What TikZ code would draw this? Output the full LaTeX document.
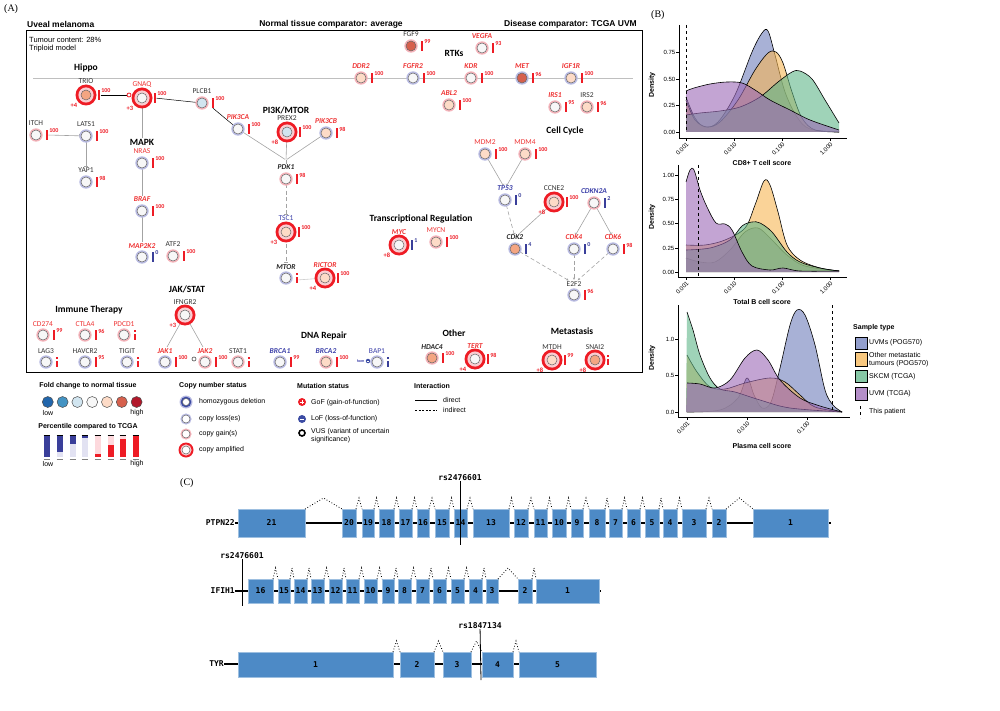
\documentclass[tikz,border=0pt]{standalone}
\usepackage{fontspec}
\setmainfont{Liberation Sans}
\newfontfamily\genefont{Carlito}
\newfontfamily\exonfont{DejaVu Sans Mono}
\newfontfamily\panelfont{Liberation Serif}
\usetikzlibrary{arrows.meta,backgrounds}

% fold change palette
\definecolor{fcA}{HTML}{2166AC}
\definecolor{fcB}{HTML}{4393C3}
\definecolor{fcC}{HTML}{D1E5F0}
\definecolor{fcD}{HTML}{F7F7F7}
\definecolor{fcE}{HTML}{FDDBC7}
\definecolor{fcS}{HTML}{F4A582}
\definecolor{fcF}{HTML}{D6604D}
\definecolor{fcG}{HTML}{B2182B}
% copy number rings and bars
\definecolor{loss}{HTML}{B9BBE2}
\definecolor{gain}{HTML}{F5B3BA}
\definecolor{amp}{HTML}{EE1C25}
\definecolor{ampin}{HTML}{F9CDD1}
\definecolor{homblue}{HTML}{3B4BA3}
\definecolor{barred}{HTML}{EE1C25}
\definecolor{barblue}{HTML}{3A3F9A}
\definecolor{pblight}{HTML}{E2E2F2}
\definecolor{prlight}{HTML}{FDD9DD}
\definecolor{genered}{HTML}{EE3333}
\definecolor{geneblue}{HTML}{3B3FA8}
\definecolor{linkgray}{HTML}{A3A3A3}
% sample types
\definecolor{uvmpog}{HTML}{6E7DBB}
\definecolor{othmet}{HTML}{F6B654}
\definecolor{skcm}{HTML}{5FB588}
\definecolor{uvmtcga}{HTML}{9B68B6}
\definecolor{exonblue}{HTML}{4D8AC6}

% density curve: colour, baseline, points
\newcommand{\dens}[3]{%
  \fill[#1, fill opacity=0.6] plot[smooth, tension=0.55] coordinates {#3} |- (686,#2) -- cycle;
  \draw[line width=0.6pt] plot[smooth, tension=0.55] coordinates {#3};}

% gene model: box top, box bottom, exons
\newcommand{\exonrow}[3]{%
  \foreach \a/\b/\n [remember=\b as \pb (initially 0)] in {#3}{
    \filldraw[exon] (\a,#1) rectangle (\b,#2);
    \node[exnum] at ({(\a+\b)/2},{(#1+#2)/2}) {\n};
    \ifnum\pb>0 \draw[splice] (\pb,#1) -- ({(\pb+\a)/2},#1-11) -- (\a,#1); \fi
  }}

% copy number ring behind a gene circle: colour, x, y, amplified?
\newcommand{\cnring}[4]{%
  \ifnum#4=1
    \fill[amp] (#2,#3) circle[radius=10.5]; \fill[ampin] (#2,#3) circle[radius=7.6];
  \else
    \fill[#1] (#2,#3) circle[radius=6.7];
  \fi}

\begin{document}
\begin{tikzpicture}[x=1pt, y=-1pt,
    every node/.style={inner sep=0pt},
    gene/.style={circle, minimum size=10pt, draw=black!60, line width=0.5pt},
    lk/.style={font=\genefont\fontsize{7.5}{8}\selectfont, text=black!80},
    lki/.style={font=\genefont\bfseries\itshape\fontsize{7.5}{8}\selectfont, text=black!85},
    lr/.style={lk, text=genered},
    lri/.style={lki, text=genered},
    lb/.style={lk, text=geneblue},
    lbi/.style={lki, text=geneblue},
    pbar/.style={rectangle, minimum width=2.6pt},
    pnum/.style={anchor=north west, font=\genefont\bfseries\fontsize{6}{6}\selectfont},
    cnv/.style={font=\genefont\bfseries\fontsize{6.5}{7}\selectfont, text=amp},
    grp/.style={font=\genefont\bfseries\fontsize{9.5}{10}\selectfont},
    hdr/.style={font=\bfseries\fontsize{8.5}{9}\selectfont},
    lnk/.style={draw=linkgray, line width=0.6pt, shorten >=1pt},
    dlnk/.style={draw=black, line width=0.5pt},
    dsh/.style={dash pattern=on 4pt off 2.5pt},
    inh/.style={-{Bar[width=3.5pt, line width=0.6pt]}},
    act/.style={-{Stealth[length=2.5pt, width=2.2pt]}},
    leg/.style={font=\fontsize{7}{8}\selectfont, anchor=west},
    legt/.style={font=\bfseries\fontsize{7}{8}\selectfont},
    tk/.style={font=\fontsize{6}{7}\selectfont},
    axt/.style={font=\bfseries\fontsize{7}{8}\selectfont},
    exon/.style={fill=exonblue, draw=exonblue!55!white, line width=0.4pt},
    exnum/.style={font=\exonfont\bfseries\fontsize{8}{8}\selectfont},
    splice/.style={dotted, line width=0.8pt},
    intron/.style={line width=1.2pt},
    glab/.style={font=\exonfont\bfseries\fontsize{8}{8}\selectfont},
    panel/.style={font=\panelfont\fontsize{10}{11}\selectfont}
]
\useasboundingbox (0,0) rectangle (1000,711);

% ---------------- (A) pathway map
\node[panel, anchor=west] at (4,9) {(A)};
\node[hdr, anchor=west] at (27,24) {Uveal melanoma};
\node[hdr] at (331,24) {Normal tissue comparator: average};
\node[hdr, anchor=east] at (637,24) {Disease comparator: TCGA UVM};
\draw[line width=0.8pt] (26,30) rectangle (642,372);
\node[font=\fontsize{7.5}{8}\selectfont, anchor=west] at (29,40) {Tumour content: 28\%};
\node[font=\fontsize{7.5}{8}\selectfont, anchor=west] at (29,49) {Triploid model};

\node[grp] (hippo) at (86,68) {Hippo};
\node[grp] (mapk) at (142,142) {MAPK};
\node[grp] (pi3k) at (286,110) {PI3K/MTOR};
\node[grp] (rtks) at (454,53) {RTKs};
\node[grp] (cellcyc) at (565,131) {Cell Cycle};
\node[grp] (transreg) at (421,219) {Transcriptional Regulation};
\node[grp] (jakstat) at (187,289) {JAK/STAT};
\node[grp] (immune) at (89,310) {Immune Therapy};
\node[grp] (dnarep) at (324,336) {DNA Repair};
\node[grp] (other) at (454,333) {Other};
\node[grp] (metas) at (572,331) {Metastasis};

% genes: name/x/y/label/label style/copy number/fold change/bar colour/percentile/bar offset
\foreach \nm/\x/\y/\lab/\ls/\cn/\fc/\bc/\pv/\bo in {
    trio/86/95/TRIO/lk/amp/fcS/barred/100/13,
    gnaq/142/98/GNAQ/lr/amp/fcD/barred/100/13,
    plcb1/202/103/PLCB1/lk/gain/fcC/barred/100/11,
    itch/36/135/ITCH/lk/gain/fcD/barred/100/11,
    lats1/86/136/LATS1/lk/loss/fcD/barred/100/11,
    yap1/86/182/YAP1/lk/loss/fcD/barred/98/11,
    nras/142/163/NRAS/lr/loss/fcD/barred/100/11,
    braf/142/211/BRAF/lri/loss/fcD/barred/100/11,
    map2k2/142/257/MAP2K2/lri/loss/fcD/barblue/0/11,
    atf2/173/256/ATF2/lk/gain/fcD/barred/100/11,
    pik3ca/238/129/PIK3CA/lri/loss/fcD/barred/100/11,
    prex2/287/132/PREX2/lk/amp/fcC/barred/100/13,
    pik3cb/326/133/PIK3CB/lri/loss/fcE/barred/98/11,
    pdk1/286/179/PDK1/lki/gain/fcD/barred/98/11,
    tsc1/286/232/TSC1/lb/amp/fcE/barred/100/13,
    mtor/286/278/MTOR/lki/loss/fcD/barred/-1/11,
    rictor/325/278/RICTOR/lri/amp/fcE/barred/100/13,
    ifngr2/185/315/IFNGR2/lk/amp/fcD/barred/-2/13,
    jak1/165/362/JAK1/lri/loss/fcD/barred/100/11,
    jak2/205/362/JAK2/lri/gain/fcD/barred/100/11,
    stat1/238/362/STAT1/lk/gain/fcD/barred/-1/11,
    cd274/43/335/CD274/lr/gain/fcD/barred/99/11,
    ctla4/85/335/CTLA4/lr/gain/fcD/barred/96/11,
    pdcd1/124/335/PDCD1/lr/gain/fcD/barred/-1/11,
    lag3/46/362/LAG3/lk/loss/fcD/barred/-1/11,
    havcr2/85/362/HAVCR2/lk/loss/fcD/barred/95/11,
    tigit/127/362/TIGIT/lk/loss/fcD/barred/-1/11,
    brca1/280/362/BRCA1/lbi/loss/fcD/barred/99/11,
    brca2/326/362/BRCA2/lbi/gain/fcE/barred/100/11,
    bap1/377/362/BAP1/lb/loss/fcD/barblue/-1/11,
    fgf9/411/46/FGF9/lk/gain/fcF/barred/99/11,
    vegfa/482/48/VEGFA/lri/gain/fcD/barred/93/11,
    ddr2/361/78/DDR2/lri/gain/fcE/barred/100/11,
    fgfr2/413/78/FGFR2/lri/loss/fcD/barred/100/11,
    kdr/471/78/KDR/lri/gain/fcD/barred/100/11,
    met/522/78/MET/lri/loss/fcF/barred/96/11,
    igf1r/571/78/IGF1R/lri/loss/fcE/barred/100/11,
    abl2/449/105/ABL2/lri/gain/fcE/barred/100/11,
    irs1/555/107/IRS1/lri/gain/fcD/barred/95/11,
    irs2/587/107/IRS2/lk/gain/fcE/barred/96/11,
    mdm2/485/154/MDM2/lr/loss/fcE/barred/100/11,
    mdm4/525/154/MDM4/lr/gain/fcE/barred/100/11,
    tp53/505/200/TP53/lbi/loss/fcD/barblue/0/11,
    ccne2/554/202/CCNE2/lk/amp/fcE/barred/100/13,
    cdkn2a/594/203/CDKN2A/lbi/gain/fcD/barblue/2/11,
    cdk2/515/249/CDK2/lki/loss/fcS/barblue/4/11,
    cdk4/574/249/CDK4/lri/loss/fcD/barblue/0/11,
    cdk6/613/249/CDK6/lri/loss/fcD/barred/98/11,
    e2f2/574/295/E2F2/lk/loss/fcD/barred/96/11,
    myc/399/245/MYC/lri/amp/fcD/barblue/1/13,
    mycn/436/242/MYCN/lr/gain/fcE/barred/100/11,
    hdac4/432/358/HDAC4/lki/gain/fcS/barred/100/11,
    tert/475/359/TERT/lri/amp/fcD/barred/98/13,
    mtdh/552/360/MTDH/lk/amp/fcE/barred/99/13,
    snai2/595/360/SNAI2/lk/amp/fcS/barred/-1/13}{
  \ifnum\bo=13 \cnring{\cn}{\x}{\y}{1} \else \cnring{\cn}{\x}{\y}{0} \fi
  \node[gene, fill=\fc] (\nm) at (\x,\y) {};
  \node[\ls, anchor=base] (\nm l) at (\x,\y-\bo+2) {\lab};
  \ifnum\pv>-1
    \node[pbar, fill=\bc, minimum height=10pt] (\nm b) at (\x+\bo,\y) {};
    \node[pnum, text=\bc] at ([xshift=0.7pt, yshift=1pt]\nm b.north east) {\pv};
  \fi
  \ifnum\pv=-1
    \node[pbar, fill=\bc, minimum height=6pt] (\nm b) at (\x+\bo,\y+2) {};
    \fill[\bc] (\x+\bo-1.3,\y-4.8) rectangle (\x+\bo+1.3,\y-2.8);
  \fi
}

% copy number gains
\foreach \nm/\t in {trio/+4, gnaq/+3, prex2/+8, tsc1/+3, rictor/+4, ifngr2/+3,
    ccne2/+8, myc/+8, tert/+4, mtdh/+8, snai2/+8}
  \node[cnv] at ([xshift=-12pt, yshift=-10pt]\nm.center) {\t};

% mutation marks
\node[circle, draw=amp, fill=white, line width=0.8pt, minimum size=4pt] (gnaqm) at (129,95) {};
\node[circle, draw=black!60, line width=0.7pt, minimum size=4pt] (jak2m) at (194,359) {};
\node[circle, fill=homblue, minimum size=4.5pt] (bap1m) at (368,361) {};
\draw[white, line width=0.5pt] ([xshift=-1.3pt]bap1m.center) -- ([xshift=1.3pt]bap1m.center);
\node[font=\genefont\bfseries\fontsize{4}{4}\selectfont, text=geneblue, anchor=east] at ([xshift=-1pt]bap1m.west) {hom};

\begin{pgfonlayer}{background}
  \draw[draw=black!25, line width=0.8pt] (33,78) -- (633,78);
  \coordinate (pj) at (286,160);
  \draw[dlnk] (triob) -- (gnaqm);
  \draw[dlnk] (gnaqb) -- (plcb1);
  \draw[dlnk] (plcb1b.south) -- (pik3ca);
  \draw[lnk, inh] (itchb) -- (lats1);
  \draw[lnk, inh] (lats1) -- (yap1l);
  \draw[lnk] (gnaq) -- (mapk);
  \draw[lnk] (nras) -- (brafl);
  \draw[lnk] (braf) -- (map2k2l);
  \draw[lnk] (pik3ca) -- (pj);
  \draw[lnk] (prex2) -- (pj);
  \draw[lnk] (pik3cb) -- (pj);
  \draw[lnk] (pj) -- (pdk1l);
  \draw[lnk, dsh, inh] (pdk1) -- (tsc1l);
  \draw[lnk, dsh, inh] (tsc1) -- (mtorl);
  \draw[lnk, draw=black!20, act] (mtorb) -- (rictor);
  \draw[lnk] (ifngr2) -- (jak1l);
  \draw[lnk] (ifngr2) -- (jak2l);
  \draw[lnk, inh] (mdm2) -- (tp53l);
  \draw[lnk, inh] (mdm4) -- (tp53l);
  \draw[lnk, dsh, inh] (tp53) -- (cdk2l);
  \draw[lnk] (ccne2) -- (cdk2l);
  \draw[lnk, inh] (cdkn2a) -- (cdk4l);
  \draw[lnk, inh] (cdkn2a) -- (cdk6l);
  \draw[lnk, dsh, act] (cdk2) -- (e2f2l);
  \draw[lnk, dsh, act] (cdk4) -- (e2f2l);
  \draw[lnk, dsh, act] (cdk6) -- (e2f2l);
\end{pgfonlayer}

% legend of (A)
\node[legt] at (88,386) {Fold change to normal tissue};
\foreach \c [count=\i] in {fcA,fcB,fcC,fcD,fcE,fcF,fcG}
  \node[circle, draw=black!70, line width=0.5pt, fill=\c, minimum size=11pt] (fold\i) at (33+\i*14.8,402) {};
\node[leg, anchor=center] at (48,413) {low};
\node[leg, anchor=center] at (137,413) {high};
\node[legt] at (88,427) {Percentile compared to TCGA};
\foreach \xx/\f in {47/1, 60/0.75, 73/0.4, 85/0.15}{
  \fill[pblight] (\xx-3.3,435) rectangle (\xx+3.3,457);
  \fill[barblue] (\xx-3.3,435) rectangle (\xx+3.3,435+22*\f);
  \draw[line width=0.8pt] (\xx-3.3,435) -- (\xx+3.3,435);
  \draw[gray, line width=0.8pt] (\xx-3.3,459) -- (\xx+3.3,459);
}
\foreach \xx/\f in {98/0.15, 111/0.55, 123/0.8, 136/1}{
  \fill[prlight] (\xx-3.3,435) rectangle (\xx+3.3,457);
  \fill[barred] (\xx-3.3,457-22*\f) rectangle (\xx+3.3,457);
  \draw[line width=0.8pt] (\xx-3.3,435) -- (\xx+3.3,435);
  \draw[gray, line width=0.8pt] (\xx-3.3,459) -- (\xx+3.3,459);
}
\node[leg, anchor=center] at (48,464) {low};
\node[leg, anchor=center] at (137,464) {high};

\node[legt, anchor=west] at (179,386) {Copy number status};
\fill[loss] (186,402) circle[radius=6.5]; \fill[homblue] (186,402) circle[radius=5.3];
\node[gene, minimum size=7pt, fill=white] (cnhom) at (186,402) {};
\node[leg] at (199,402) {homozygous deletion};
\fill[loss] (186,419) circle[radius=5.6];
\node[gene, minimum size=8pt, fill=white] (cnloss) at (186,419) {};
\node[leg] at (199,419) {copy loss(es)};
\fill[gain] (186,434) circle[radius=5.6];
\node[gene, minimum size=8pt, fill=white] (cngain) at (186,434) {};
\node[leg] at (199,434) {copy gain(s)};
\fill[amp] (186,450) circle[radius=7.5]; \fill[ampin] (186,450) circle[radius=5.6];
\node[gene, minimum size=8pt, fill=white] (cnamp) at (186,450) {};
\node[leg] at (199,450) {copy amplified};

\node[legt, anchor=west] at (297,386) {Mutation status};
\node[circle, fill=amp, minimum size=8pt] (gof) at (302,402) {};
\draw[white, line width=1pt] ([xshift=-2.3pt]gof.center) -- ([xshift=2.3pt]gof.center)
  ([yshift=-2.3pt]gof.center) -- ([yshift=2.3pt]gof.center);
\node[leg] at (311,403) {GoF (gain-of-function)};
\node[circle, fill=homblue, minimum size=8pt] (lof) at (302,419) {};
\draw[white, line width=1pt] ([xshift=-2.3pt]lof.center) -- ([xshift=2.3pt]lof.center);
\node[leg] at (311,419) {LoF (loss-of-function)};
\node[circle, draw=black, line width=1.6pt, minimum size=6pt] (vus) at (302,433) {};
\node[leg, align=left, anchor=north west] at (311,428) {VUS (variant of uncertain\\significance)};

\node[legt, anchor=west] at (414,386) {Interaction};
\coordinate (dira) at (415,400); \coordinate (dirb) at (437,400);
\coordinate (inda) at (415,410); \coordinate (indb) at (437,410);
\draw[line width=0.6pt] (dira) -- (dirb);
\draw[line width=0.6pt, dash pattern=on 2pt off 1.5pt] (inda) -- (indb);
\node[leg] at (443,400) {direct};
\node[leg] at (443,410) {indirect};

% ---------------- (B) density plots
\node[panel, anchor=west] at (651,15) {(B)};
% CD8+ T cells
\dens{uvmpog}{132}{(686,97) (695,118) (705,127) (718,122) (735,95) (752,52) (762,33) (768,31) (775,55) (785,92) (797,117) (810,129) (839,132)}
\dens{othmet}{132}{(686,100) (695,120) (707,127) (720,122) (738,100) (755,70) (768,53) (776,52) (783,63) (792,92) (802,118) (815,130) (839,132)}
\dens{skcm}{132}{(686,115) (700,113) (720,111) (740,107) (760,97) (778,82) (792,72) (800,71) (812,79) (825,100) (839,123)}
\dens{uvmtcga}{132}{(686,91) (694,88) (710,84) (727,82) (742,83) (755,90) (770,100) (790,110) (810,120) (839,130)}
\draw[line width=0.6pt] (679,25) -- (679,138) -- (847,138);
\draw[dashed, line width=0.5pt] (686,25) -- (686,132);
\foreach \v/\yy in {0.00/132, 0.25/105, 0.50/79, 0.75/52}{
  \draw (676,\yy) -- (679,\yy); \node[tk, anchor=east] at (675.5,\yy) {\v};}
\foreach \v/\xx in {0.001/686, 0.010/734, 0.100/782, 1.000/830}{
  \draw (\xx,138) -- (\xx,141); \node[tk, rotate=45, anchor=north east] at (\xx,142) {\v};}
\node[axt, rotate=90] at (652,85) {Density};
\node[axt] at (762,163) {CD8+ T cell score};
% total B cells
\dens{uvmpog}{272}{(686,258) (700,262) (715,262) (730,250) (745,232) (758,228) (770,238) (787,255) (805,266) (839,271)}
\dens{othmet}{272}{(686,245) (705,245) (725,240) (745,228) (755,205) (764,181) (770,185) (778,212) (787,245) (800,260) (820,268) (839,271)}
\dens{skcm}{272}{(686,250) (710,248) (730,240) (742,226) (752,222) (760,223) (772,232) (787,252) (800,262) (820,268) (839,271)}
\dens{uvmtcga}{272}{(686,182) (690,170) (694,170) (700,190) (707,207) (716,223) (725,224) (732,230) (742,252) (752,266) (770,270) (783,268) (800,271) (839,271)}
\draw[line width=0.6pt] (678,165) -- (678,277) -- (847,277);
\draw[dashed, line width=0.5pt] (698,165) -- (698,277);
\foreach \v/\yy in {0.00/272, 0.25/248, 0.50/223, 0.75/199, 1.00/175}{
  \draw (675,\yy) -- (678,\yy); \node[tk, anchor=east] at (674.5,\yy) {\v};}
\foreach \v/\xx in {0.001/686, 0.010/734, 0.100/782, 1.000/830}{
  \draw (\xx,277) -- (\xx,280); \node[tk, rotate=45, anchor=north east] at (\xx,281) {\v};}
\node[axt, rotate=90] at (652,217) {Density};
\node[axt] at (762,302) {Total B cell score};
% plasma cells
\dens{uvmpog}{412}{(687,412) (720,410) (738,398) (747,378) (754,395) (762,408) (771,402) (780,368) (790,325) (797,310) (805,315) (815,345) (825,390) (833,405) (842,412)}
\dens{othmet}{412}{(687,355) (697,372) (710,387) (725,389) (745,383) (770,378) (785,382) (800,395) (815,407) (842,412)}
\dens{skcm}{412}{(687,312) (693,330) (700,355) (710,378) (720,389) (735,392) (760,400) (790,408) (842,412)}
\dens{uvmtcga}{412}{(687,383) (700,384) (715,388) (730,380) (745,358) (757,350) (768,360) (780,380) (800,398) (820,406) (842,412)}
\draw[line width=0.6pt] (678,305) -- (678,417) -- (850,417);
\draw[dashed, line width=0.5pt] (832,305) -- (832,412);
\foreach \v/\yy in {0.0/412, 0.5/375.5, 1.0/339}{
  \draw (675,\yy) -- (678,\yy); \node[tk, anchor=east] at (674.5,\yy) {\v};}
\foreach \v/\xx in {0.001/687, 0.010/747, 0.100/807}{
  \draw (\xx,417) -- (\xx,420); \node[tk, rotate=45, anchor=north east] at (\xx,421) {\v};}
\node[axt, rotate=90] at (652,358) {Density};
\node[axt] at (762,446) {Plasma cell score};
% sample legend
\node[legt, anchor=west] at (853,328) {Sample type};
\foreach \c/\ya/\yb in {uvmpog/337/349, othmet/352/366, skcm/370/382, uvmtcga/387/400}
  \filldraw[fill=\c, fill opacity=0.75, draw=black, line width=0.6pt] (855,\ya) rectangle (867,\yb);
\node[leg] at (869,343) {UVMs (POG570)};
\node[leg, align=left] at (869,360) {Other metastatic\\tumours (POG570)};
\node[leg] at (869,377) {SKCM (TCGA)};
\node[leg] at (869,394) {UVM (TCGA)};
\draw[dashed, line width=0.6pt] (860,406) -- (860,418);
\node[leg] at (869,412) {This patient};

% ---------------- (C) gene models
\node[panel, anchor=west] at (180,483) {(C)};
\node[glab, anchor=east] (ptpn22) at (235,523) {PTPN22};
\coordinate (ptpn22e) at (831,523);
\draw[intron] (ptpn22) -- (ptpn22e);
\exonrow{509}{537}{238/305/21, 342/356/20, 362/374/19, 379/394/18, 399/412/17, 417/429/16,
  435/449/15, 454/467/14, 473/509/13, 514/528/12, 534/547/11, 552/566/10, 571/583/9,
  589/605/8, 609/622/7, 627/640/6, 645/659/5, 663/677/4, 682/706/3, 712/726/2, 753/828/1}
\node[glab] (snpa) at (460,478) {rs2476601};
\coordinate (snpae) at (460,545);
\draw[line width=0.8pt] (snpa) -- (snpae);

\node[glab, anchor=east] (ifih1) at (235,591) {IFIH1};
\coordinate (ifih1e) at (601,591);
\draw[intron] (ifih1) -- (ifih1e);
\exonrow{579}{603}{248/273/16, 278/290/15, 294/307/14, 311/324/13, 329/342/12, 346/359/11,
  364/377/10, 382/394/9, 398/411/8, 416/429/7, 433/446/6, 451/464/5, 469/482/4,
  486/498/3, 518/532/2, 536/599/1}
\node[glab] (snpb) at (242,556) {rs2476601};
\coordinate (snpbe) at (242,606);
\draw[line width=0.8pt] (snpb) -- (snpbe);

\node[glab, anchor=east] (tyr) at (224,664) {TYR};
\coordinate (tyre) at (597,664);
\draw[intron] (tyr) -- (tyre);
\exonrow{652}{677}{238/393/1, 400/434/2, 443/471/3, 482/513/4, 519/596/5}
\node[glab] (snpc) at (480,626) {rs1847134};
\coordinate (snpce) at (481,680);
\draw[line width=0.8pt] (snpc) -- (snpce);
\end{tikzpicture}
\end{document}
